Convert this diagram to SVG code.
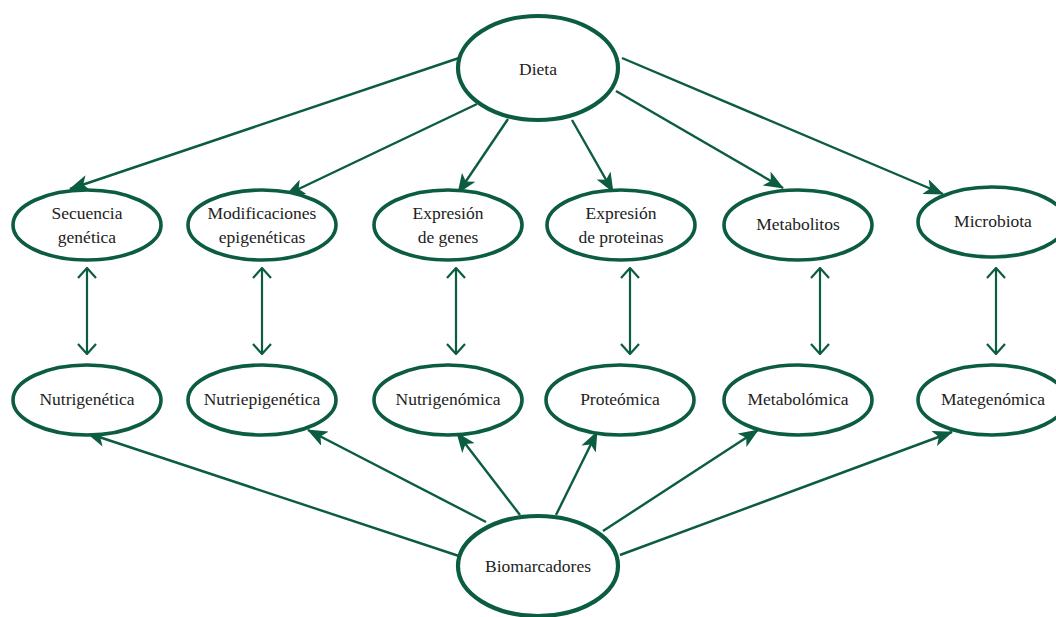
<svg xmlns="http://www.w3.org/2000/svg" width="1056" height="617" viewBox="0 0 1056 617">
  <defs>
    <style>
      .node ellipse { fill: #ffffff; stroke: #0b5c40; stroke-width: 3.6; }
      .big ellipse { stroke-width: 4.2; }
      .node text { fill: #222222; }
      .link { stroke: #0b5c40; stroke-width: 2.4; fill: none; }
      .pair { stroke: #0b5c40; stroke-width: 2.2; fill: none; }
    </style>
    <marker id="head" viewBox="0 0 20 16" refX="19" refY="8" markerWidth="20" markerHeight="16" markerUnits="userSpaceOnUse" orient="auto">
      <path d="M0,0 L20,8 L0,16 L5,8 Z" fill="#0b5c40"/>
    </marker>
    <marker id="open" viewBox="0 0 12 20" refX="11" refY="10" markerWidth="12" markerHeight="20" markerUnits="userSpaceOnUse" orient="auto-start-reverse">
      <path d="M1,1 L11,10 L1,19" fill="none" stroke="#0b5c40" stroke-width="2.2"/>
    </marker>
  </defs>

  <rect width="1056" height="617" fill="#ffffff"/>

  <!-- connectors -->
  <g id="connectors">
    <!-- from Dieta -->
    <line class="link" x1="459" y1="58" x2="70" y2="189" marker-end="url(#head)"/>
    <line class="link" x1="477" y1="104" x2="286" y2="195" marker-end="url(#head)"/>
    <line class="link" x1="508" y1="119" x2="458" y2="193" marker-end="url(#head)"/>
    <line class="link" x1="572" y1="120" x2="613" y2="192" marker-end="url(#head)"/>
    <line class="link" x1="616" y1="91" x2="783" y2="188" marker-end="url(#head)"/>
    <line class="link" x1="622" y1="58" x2="943" y2="194" marker-end="url(#head)"/>
    <!-- from Biomarcadores -->
    <line class="link" x1="459" y1="556" x2="87" y2="433" marker-end="url(#head)"/>
    <line class="link" x1="486" y1="522" x2="308" y2="430" marker-end="url(#head)"/>
    <line class="link" x1="520" y1="515" x2="457" y2="433" marker-end="url(#head)"/>
    <line class="link" x1="556" y1="515" x2="597" y2="432" marker-end="url(#head)"/>
    <line class="link" x1="603" y1="531" x2="758" y2="430" marker-end="url(#head)"/>
    <line class="link" x1="620" y1="555" x2="952" y2="432" marker-end="url(#head)"/>
    <!-- two-way links between rows -->
    <line class="pair" x1="87" y1="268" x2="87" y2="354" marker-start="url(#open)" marker-end="url(#open)"/>
    <line class="pair" x1="262" y1="268" x2="262" y2="354" marker-start="url(#open)" marker-end="url(#open)"/>
    <line class="pair" x1="456" y1="268" x2="456" y2="354" marker-start="url(#open)" marker-end="url(#open)"/>
    <line class="pair" x1="630" y1="268" x2="630" y2="354" marker-start="url(#open)" marker-end="url(#open)"/>
    <line class="pair" x1="820" y1="268" x2="820" y2="354" marker-start="url(#open)" marker-end="url(#open)"/>
    <line class="pair" x1="996" y1="268" x2="996" y2="354" marker-start="url(#open)" marker-end="url(#open)"/>
  </g>

  <g font-family="'Liberation Serif', 'DejaVu Serif', serif" font-size="17.5" text-anchor="middle">
    <!-- top node -->
    <g id="dieta" class="node big">
      <ellipse cx="538" cy="68" rx="80" ry="52"/>
      <text x="538" y="75">Dieta</text>
    </g>

    <!-- middle row -->
    <g id="secuencia" class="node">
      <ellipse cx="87" cy="225" rx="74" ry="35"/>
      <text x="87" y="219">Secuencia</text>
      <text x="87" y="243">genética</text>
    </g>
    <g id="modificaciones" class="node">
      <ellipse cx="262" cy="225" rx="74" ry="35"/>
      <text x="262" y="219">Modificaciones</text>
      <text x="262" y="243">epigenéticas</text>
    </g>
    <g id="expresion-genes" class="node">
      <ellipse cx="448" cy="225" rx="74" ry="35"/>
      <text x="448" y="219">Expresión</text>
      <text x="448" y="243">de genes</text>
    </g>
    <g id="expresion-proteinas" class="node">
      <ellipse cx="621" cy="225" rx="74" ry="35"/>
      <text x="621" y="219">Expresión</text>
      <text x="621" y="243">de proteinas</text>
    </g>
    <g id="metabolitos" class="node">
      <ellipse cx="798" cy="225" rx="74" ry="35"/>
      <text x="798" y="230">Metabolitos</text>
    </g>
    <g id="microbiota" class="node">
      <ellipse cx="992" cy="222" rx="74" ry="35"/>
      <text x="993" y="227">Microbiota</text>
    </g>

    <!-- lower row -->
    <g id="nutrigenetica" class="node">
      <ellipse cx="87" cy="400" rx="74" ry="35"/>
      <text x="87" y="405">Nutrigenética</text>
    </g>
    <g id="nutriepigenetica" class="node">
      <ellipse cx="262" cy="400" rx="74" ry="35"/>
      <text x="262" y="405">Nutriepigenética</text>
    </g>
    <g id="nutrigenomica" class="node">
      <ellipse cx="448" cy="400" rx="74" ry="35"/>
      <text x="448" y="405">Nutrigenómica</text>
    </g>
    <g id="proteomica" class="node">
      <ellipse cx="620" cy="400" rx="74" ry="35"/>
      <text x="620" y="405">Proteómica</text>
    </g>
    <g id="metabolomica" class="node">
      <ellipse cx="798" cy="400" rx="74" ry="35"/>
      <text x="798" y="405">Metabolómica</text>
    </g>
    <g id="mategenomica" class="node">
      <ellipse cx="992" cy="400" rx="74" ry="35"/>
      <text x="993" y="405">Mategenómica</text>
    </g>

    <!-- bottom node -->
    <g id="biomarcadores" class="node big">
      <ellipse cx="538" cy="566" rx="80" ry="50"/>
      <text x="538" y="572">Biomarcadores</text>
    </g>
  </g>
</svg>
